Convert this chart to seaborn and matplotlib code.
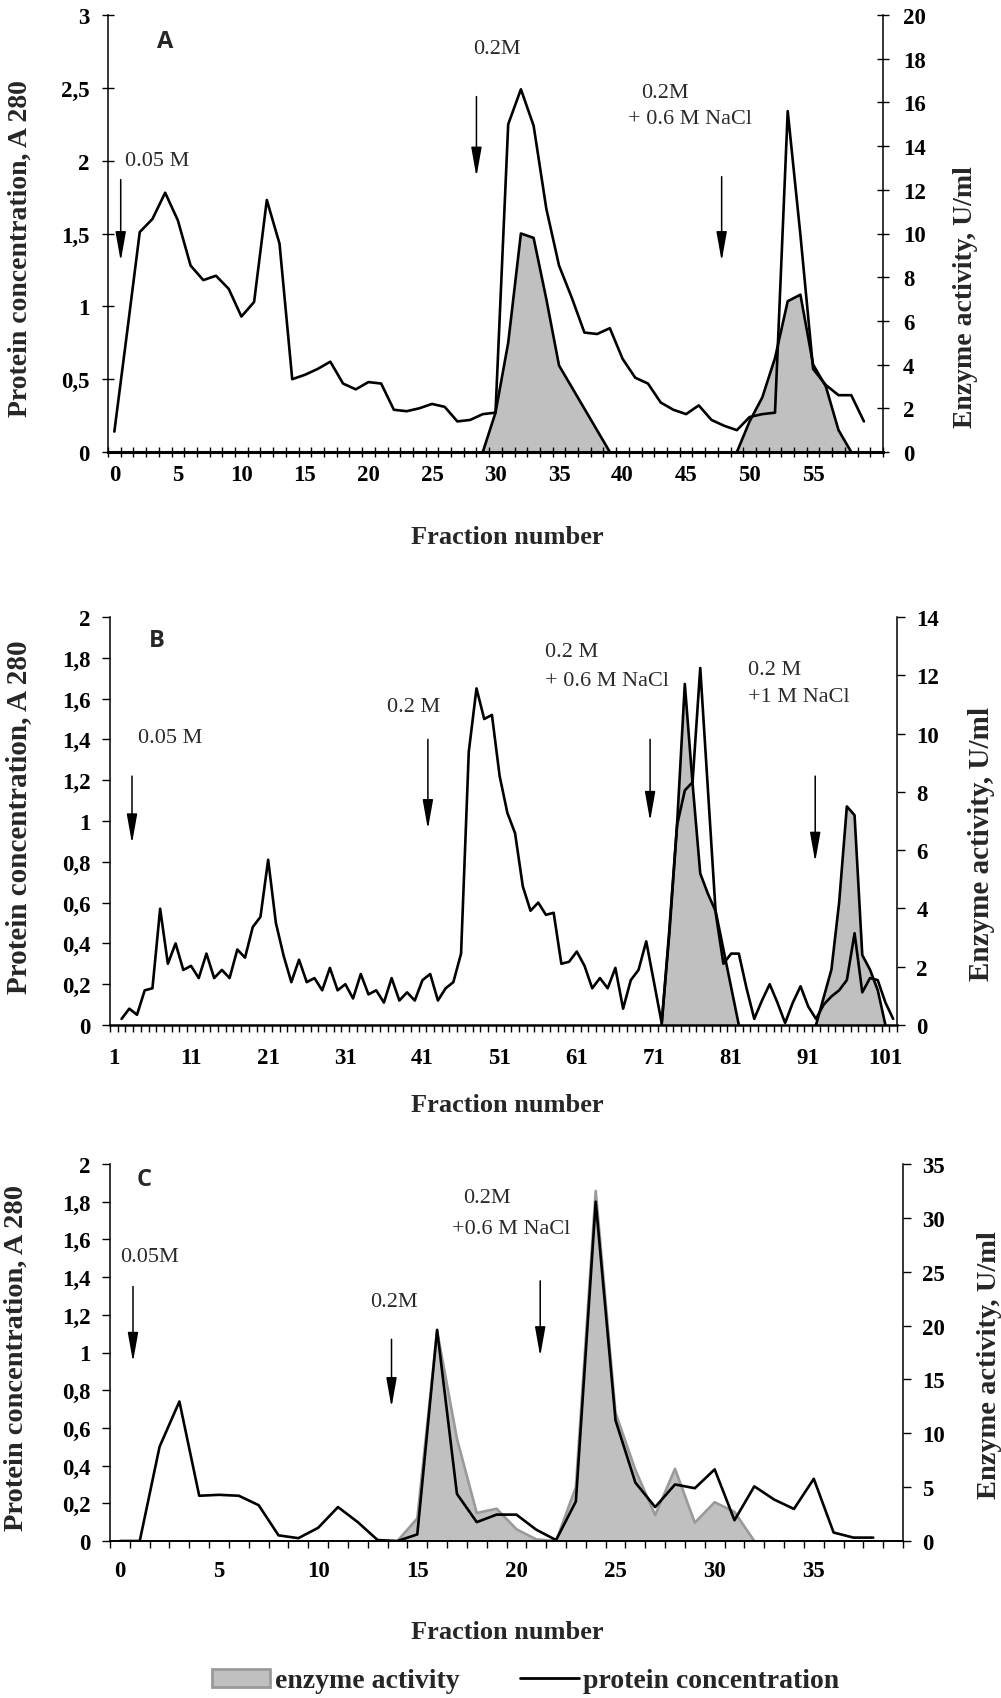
import numpy as np
import matplotlib
matplotlib.use("Agg")
import matplotlib.pyplot as plt
from matplotlib.ticker import FuncFormatter
from matplotlib.patches import Patch
from matplotlib.lines import Line2D
import seaborn as sns

sns.set_theme(style="ticks")
SERIF = ['Liberation Serif', 'DejaVu Serif']
plt.rcParams['font.family'] = SERIF

# ---------------- data ----------------
# Panel A
fractions_A = list(range(0, 60))
protein_A = [0.14, 0.82, 1.51, 1.60, 1.78, 1.59, 1.28, 1.18, 1.21, 1.12,
             0.93, 1.03, 1.73, 1.43, 0.50, 0.53, 0.57, 0.62, 0.47, 0.43,
             0.48, 0.47, 0.29, 0.28, 0.30, 0.33, 0.31, 0.21, 0.22, 0.26,
             0.27, 2.25, 2.49, 2.24, 1.67, 1.28, 1.06, 0.82, 0.81, 0.85,
             0.64, 0.51, 0.47, 0.34, 0.29, 0.26, 0.32, 0.22, 0.18, 0.15,
             0.24, 0.26, 0.27, 2.34, 1.49, 0.57, 0.46, 0.39, 0.39, 0.21]
enz_A1_fr = list(range(29, 40))
enz_A1 = [0, 1.8, 5.0, 10.0, 9.8, 7.0, 3.96, 2.97, 1.98, 0.99, 0]
enz_A2_fr = list(range(49, 59))
enz_A2 = [0, 1.4, 2.5, 4.3, 6.9, 7.2, 4.0, 3.0, 1.0, 0]

# Panel B
fractions_B = list(range(2, 103))
protein_B = [0.03, 0.08, 0.05, 0.17, 0.18, 0.57, 0.30, 0.40, 0.27, 0.29,   # 2-11
             0.23, 0.35, 0.23, 0.27, 0.23, 0.37, 0.33, 0.48, 0.53, 0.81,   # 12-21
             0.50, 0.34, 0.21, 0.32, 0.21, 0.23, 0.17, 0.28, 0.17, 0.20,   # 22-31
             0.13, 0.25, 0.15, 0.17, 0.11, 0.23, 0.12, 0.16, 0.12, 0.22,   # 32-41
             0.25, 0.12, 0.18, 0.21, 0.35, 1.34, 1.65, 1.50, 1.52, 1.22,   # 42-51
             1.04, 0.94, 0.68, 0.56, 0.60, 0.54, 0.55, 0.30, 0.31, 0.36,   # 52-61
             0.29, 0.18, 0.23, 0.18, 0.28, 0.08, 0.22, 0.27, 0.41, 0.21,   # 62-71
             0.01, 0.45, 0.98, 1.15, 1.19, 1.75, 1.15, 0.55, 0.30, 0.35,   # 72-81
             0.35, 0.18, 0.03, 0.12, 0.20, 0.11, 0.01, 0.11, 0.19, 0.09,   # 82-91
             0.03, 0.10, 0.14, 0.17, 0.22, 0.45, 0.16, 0.23, 0.22, 0.11,   # 92-101
             0.03]                                                          # 102
enz_B1_fr = list(range(72, 83))
enz_B1 = [0, 3.3, 6.9, 11.7, 8.3, 5.2, 4.5, 3.9, 2.6, 1.3, 0]
enz_B2_fr = list(range(92, 102))
enz_B2 = [0, 0.95, 1.9, 4.2, 7.5, 7.2, 2.4, 1.9, 1.2, 0]

# Panel C
fractions_C = list(range(0, 39))
protein_C = [0, 0, 0.50, 0.74, 0.24, 0.245, 0.24, 0.19, 0.03, 0.015,
             0.07, 0.18, 0.10, 0.005, 0.0, 0.035, 1.12, 0.25, 0.10, 0.14,
             0.14, 0.06, 0.005, 0.21, 1.80, 0.64, 0.31, 0.18, 0.30, 0.28,
             0.38, 0.11, 0.29, 0.22, 0.17, 0.33, 0.045, 0.018, 0.018]
enz_C_fr = list(range(14, 33))
enz_C = [0, 2.1, 19.5, 9.5, 2.6, 3.0, 1.1, 0.15, 0, 5.0,
         32.5, 11.9, 6.6, 2.4, 6.7, 1.7, 3.6, 2.7, 0]

xtick_labels_A = [0, 5, 10, 15, 20, 25, 30, 35, 40, 45, 50, 55]
xtick_labels_B = [1, 11, 21, 31, 41, 51, 61, 71, 81, 91, 101]
xtick_labels_C = [0, 5, 10, 15, 20, 25, 30, 35]

FILL = '#c0c0c0'
W, H = 1001, 1699
fig = plt.figure(figsize=(W / 100, H / 100), dpi=100)


def px_axes(left, right, top, bottom):
    return fig.add_axes([left / W, 1 - bottom / H, (right - left) / W, (bottom - top) / H])


def comma(v, _):
    s = ('%g' % v)
    return s.replace('.', ',')


def build(ax, fr, prot, segments, edge, xlim, xlabels, ylim_l, yticks_l, ylim_r, yticks_r,
          tickdir, xlabpad, bottom_lw, letter, letter_xy, ylab_l, ylab_r):
    ax2 = ax.twinx()
    ax.set_zorder(ax2.get_zorder() + 1)
    ax.patch.set_visible(False)
    for fs, vs in segments:
        ax2.fill_between(fs, 0, vs, color=FILL, lw=0, zorder=1)
        sns.lineplot(x=fs, y=vs, ax=ax2, color=edge, linewidth=1.9, estimator=None, zorder=2)
    sns.lineplot(x=fr, y=prot, ax=ax, color='black', linewidth=1.9, estimator=None)
    ax.set_xlim(*xlim)
    ax2.set_xlim(*xlim)
    ax.set_ylim(*ylim_l)
    ax2.set_ylim(*ylim_r)
    ax.set_yticks(yticks_l)
    ax.yaxis.set_major_formatter(FuncFormatter(comma))
    ax2.set_yticks(yticks_r)
    ax.set_xticks(xlabels)
    ax.set_xticklabels([str(v) for v in xlabels])
    ax.set_xticks(np.arange(xlim[0], xlim[1] + 0.01, 1.0), minor=True)
    for a in (ax, ax2):
        a.spines['top'].set_visible(False)
    ax.spines['right'].set_visible(False)
    ax2.spines['left'].set_visible(False)
    ax2.spines['bottom'].set_visible(False)
    ax.spines['left'].set_linewidth(1.1)
    ax2.spines['right'].set_linewidth(1.1)
    ax.spines['bottom'].set_linewidth(bottom_lw)
    for sp in list(ax.spines.values()) + list(ax2.spines.values()):
        sp.set_color('black')
    tl = dict(labelsize=16.5, colors='black', width=1.0)
    ax.tick_params(axis='x', which='major', length=0, pad=xlabpad, **tl)
    ax.tick_params(axis='x', which='minor', length=7 if tickdir == 'inout' else 5,
                   direction=tickdir, width=1.0, color='black')
    ax.tick_params(axis='y', which='major', length=9 if tickdir == 'inout' else 6,
                   direction=tickdir, pad=9 if tickdir == 'inout' else 8, **tl)
    ax2.tick_params(axis='y', which='major', length=9 if tickdir == 'inout' else 6,
                    direction=tickdir, pad=10 if tickdir == 'inout' else 8, **tl)
    for lab in ax.get_xticklabels() + ax.get_yticklabels() + ax2.get_yticklabels():
        lab.set_fontweight('bold')
        lab.set_family(SERIF)
    ax.set_xlabel('')
    ax.set_ylabel(ylab_l[0], fontsize=ylab_l[1], fontweight='bold')
    ax.yaxis.set_label_coords(ylab_l[2], ylab_l[3])
    ax2.set_ylabel(ylab_r[0], fontsize=ylab_r[1], fontweight='bold', rotation=90)
    ax2.yaxis.set_label_coords(ylab_r[2], ylab_r[3])
    ax.text(letter_xy[0], letter_xy[1], letter, transform=ax.transAxes, fontsize=17,
            fontweight='bold', family=['Open Sans', 'DejaVu Sans'], ha='center', va='center')
    return ax2


def arrow(ax, x, y0, y1):
    ax.annotate('', xy=(x, y1), xytext=(x, y0),
                arrowprops=dict(arrowstyle='-|>,head_length=0.9,head_width=0.16',
                                color='black', lw=1.1, mutation_scale=20,
                                shrinkA=0, shrinkB=0))


def note(ax, x, y, s, ha='left'):
    ax.text(x, y, s, fontsize=16, color='#2a2a2a', ha=ha, va='center', family=SERIF)


# ---------------- panel A ----------------
axA = px_axes(108, 883, 16, 453)
build(axA, fractions_A, protein_A, [(enz_A1_fr, enz_A1), (enz_A2_fr, enz_A2)], 'black',
      (-0.5, 60.5), xtick_labels_A, (0, 3), [0, 0.5, 1, 1.5, 2, 2.5, 3],
      (0, 20), list(range(0, 21, 2)), 'inout', 9, 2.2, 'A', (0.074, 0.94),
      ('Protein concentration, A 280', 20, -0.097, 0.467),
      ('Enzyme activity, U/ml', 20, 1.090, 0.357))
note(axA, 0.87, 2.0, '0.05 M')
arrow(axA, 0.5, 1.87, 1.31)
note(axA, 30.1, 2.77, '0.2M', ha='center')
arrow(axA, 28.5, 2.44, 1.89)
note(axA, 41.5, 2.47, '0.2M')
note(axA, 40.4, 2.29, '+ 0.6 M NaCl')
arrow(axA, 47.8, 1.89, 1.31)

# ---------------- panel B ----------------
axB = px_axes(110, 897, 618, 1026)
build(axB, fractions_B, protein_B, [(enz_B1_fr, enz_B1), (enz_B2_fr, enz_B2)], 'black',
      (0.5, 102.5), xtick_labels_B, (0, 2), [0, 0.2, 0.4, 0.6, 0.8, 1, 1.2, 1.4, 1.6, 1.8, 2],
      (0, 14), list(range(0, 15, 2)), 'out', 16, 1.8, 'B', (0.06, 0.944),
      ('Protein concentration, A 280', 21, -0.099, 0.512),
      ('Enzyme activity, U/ml', 21, 1.090, 0.446))
note(axB, 4.13, 1.41, '0.05 M')
arrow(axB, 3.35, 1.22, 0.89)
note(axB, 36.4, 1.56, '0.2 M')
arrow(axB, 41.7, 1.40, 0.96)
note(axB, 56.9, 1.83, '0.2 M')
note(axB, 56.9, 1.69, '+ 0.6 M NaCl')
arrow(axB, 70.5, 1.40, 1.0)
note(axB, 83.2, 1.745, '0.2 M')
note(axB, 83.2, 1.61, '+1 M NaCl')
arrow(axB, 91.9, 1.22, 0.80)

# ---------------- panel C ----------------
axC = px_axes(110, 903, 1165, 1542)
build(axC, fractions_C, protein_C, [(enz_C_fr, enz_C)], '#9a9a9a',
      (-0.5, 39.5), xtick_labels_C, (0, 2), [0, 0.2, 0.4, 0.6, 0.8, 1, 1.2, 1.4, 1.6, 1.8, 2],
      (0, 35), list(range(0, 36, 5)), 'out', 14, 1.4, 'C', (0.043, 0.96),
      ('Protein concentration, A 280', 20.5, -0.103, 0.488),
      ('Enzyme activity, U/ml', 20.5, 1.093, 0.47))
note(axC, 0.0, 1.51, '0.05M')
arrow(axC, 0.66, 1.35, 0.95)
note(axC, 12.6, 1.27, '0.2M')
arrow(axC, 13.7, 1.07, 0.71)
note(axC, 17.3, 1.82, '0.2M')
note(axC, 16.75, 1.66, '+0.6 M NaCl')
arrow(axC, 21.2, 1.38, 0.98)

# x-axis titles
for yc in (538, 1106, 1633):
    fig.text(507 / W, 1 - yc / H, 'Fraction number', fontsize=19, fontweight='bold',
             ha='center', va='center', family=SERIF)

handles = [Patch(facecolor=FILL, edgecolor='#9a9a9a', linewidth=2, label='enzyme activity'),
           Line2D([0], [0], color='black', lw=2, label='protein concentration')]
fig.legend(handles=handles, loc='center', bbox_to_anchor=(0.525, 1 - 1682 / H), ncol=2,
           frameon=False, prop=dict(family=SERIF, weight='bold', size=20),
           handlelength=2.1, handleheight=0.6, handletextpad=0.15, columnspacing=2.2)

fig.savefig('out.png', dpi=100)
